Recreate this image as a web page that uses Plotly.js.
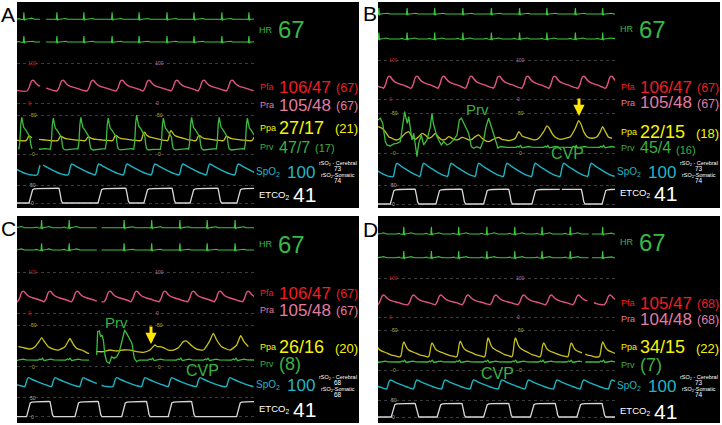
<!DOCTYPE html>
<html><head><meta charset="utf-8">
<script src="https://cdn.plot.ly/plotly-3.0.1.min.js"></script>
<style>html,body{margin:0;padding:0;background:#fff}#chart{width:722px;height:425px}</style>
</head><body><div id="chart"></div>
<script>
// ================= DATA (time in s, pressures in mmHg) =================
const T_END = 7.9;
// shared beat shapes: offset from fiducial point (s) and normalized amplitude
const ecgShapeT = [-0.26,-0.21,-0.16,-0.12,-0.04,-0.02,0,0.02,0.045,0.1,0.17,0.24,0.3,0.36];
const ecgShapeV = [0,0.08,0.09,0,0,-0.06,1,-0.18,0,0.01,0.08,0.16,0.12,0];
const artShapeT = [-0.2,-0.13,-0.07,-0.03,0,0.03,0.1,0.17,0.23,0.33,0.5,0.62,0.72];
const artShapeV = [0,0.3,0.8,0.97,1,0.96,0.72,0.55,0.46,0.36,0.22,0.1,0.03];
const rvShapeT = [-0.1,-0.067,-0.033,0,0.033,0.067,0.13,0.2,0.27,0.3,0.33,0.4,0.55,0.8];
const rvShapeV = [0,0.2,0.78,1,0.83,0.68,0.61,0.51,0.39,0.15,0.02,-0.02,0,0.02];
const paShapeT = [-0.13,-0.1,-0.067,-0.033,0,0.033,0.1,0.17,0.27,0.4,0.55,0.7,0.78];
const paShapeV = [0,0.05,0.35,0.8,1,0.9,0.6,0.45,0.35,0.25,0.12,0.05,0];
const plethShapeT = [-0.13,-0.1,-0.067,-0.033,0,0.05,0.13,0.27,0.4,0.53,0.67,0.78];
const plethShapeV = [0,0.15,0.55,0.88,1,0.95,0.8,0.6,0.42,0.25,0.1,0.02];
const cvpShapeT = [-0.12,-0.06,-0.02,0.03,0.08,0.15,0.3,0.4,0.5];
const cvpShapeV = [0,1.2,0.3,2.2,-0.6,0,1.0,0.2,0];
const capRiseT = [0,0.04,0.08,0.12,0.18,0.3];
const capRiseV = [0,0.3,0.72,0.9,0.96,0.98];
const capFallT = [-0.05,0,0.04,0.08,0.12];
const capFallV = [1,0.99,0.6,0.15,0];

// ---- Panel A ----
const ecgR_A = [0.23,1.33,2.23,3.17,4.07,5.0,5.9,6.83,7.73];
const ecgGap_A = [0.77,0.97];
const pfaPeak_A = [-0.7,0.53,1.53,2.53,3.5,4.4,5.33,6.23,7.17];
const pfaGap_A = [0.77,0.97];
const pfaSysDia_A = [57,30];
const prvPeak_A = [0.16,1.21,2.13,3.04,3.99,4.88,5.82,6.74,7.68];
const prvSys_A = [47,46,47,46,50,46,47,47,46];
const prvDia_A = 6;
const ppaPeakT_A = [-0.6,0.41,1.46,2.38,3.29,4.24,5.13,6.07,6.99,7.93];
const ppaPeakV_A = [22,23,23,22,24,28,30,24,23,22];
const ppaTrough_A = 17;
const ppGap_A = [0.5,0.73];
const spo2Peak_A = [-0.35,0.8,1.83,2.73,3.67,4.6,5.53,6.43,7.38];
const spo2Gap_A = [0.77,0.87];
const etUp_A = [0.4,2.7,4.23,5.77,7.33];
const etDown_A = [1.4,3.63,5.17,6.7,8.6];
const etTop_A = 41;

// ---- Panel B ----
const ecgR_B = [0.03,0.97,1.89,2.83,3.78,4.72,5.63,6.58,7.49];
const pfaPeak_B = [-0.55,0.38,1.3,2.19,3.11,4.04,4.99,5.89,6.86,7.78];
const pfaSysDia_B = [59,28];
const prvB_t = [0.0,0.078,0.156,0.2,0.244,0.3,0.411,0.522,0.633,0.744,0.822,0.889,0.933,0.978,1.022,1.078,1.133,1.189,1.244,1.3,1.356,1.444,1.522,1.633,1.744,1.8,1.844,1.911,1.967,2.022,2.111,2.189,2.3,2.411,2.522,2.633,2.711,2.778,2.856,2.933,3.022,3.111,3.189,3.3,3.411,3.522,3.6,3.689,3.778,3.856,3.933,4.0];
const prvB_v = [41.7,43.8,37.5,25,14.6,10.4,9.2,11.7,12.5,14.6,33.3,52.1,43.8,37.5,45.8,29.2,16.7,25,8.3,-4.2,12.5,22.9,10.4,16.7,33.3,50,37.5,27.1,20.8,16.7,10.4,14.6,10.4,12.5,16.7,22.9,41.7,43.8,37.5,31.3,25,8.3,6.3,8.3,6.3,16.7,33.3,43.8,33.3,22.9,12.5,6.3];
const cvpBase_B = 7.5;
const ppaB_t = [0.0,0.133,0.244,0.356,0.467,0.578,0.689,0.8,0.911,1.022,1.133,1.244,1.356,1.467,1.578,1.689,1.8,1.911,2.022,2.133,2.244,2.356,2.467,2.578,2.689,2.8,2.911,3.022,3.133,3.244,3.356,3.467,3.578,3.689,3.8,3.911,4.022,4.133,4.244,4.356,4.467,4.578,4.689,4.744,4.8,4.911,5.022,5.133,5.244,5.356,5.522,5.633,5.711,5.8,5.911,6.078,6.244,6.411,6.578,6.689,6.778,6.856,6.967,7.133,7.3,7.411,7.489,7.578,7.689,7.8];
const ppaB_v = [33.3,31.3,27.1,20.8,18.8,16.7,17.5,20.8,25,27.1,20.8,17.5,20.8,25,22.9,18.8,20.8,25,20,16.7,17.5,20.8,18.8,16.7,17.5,20,18.8,16.7,17.5,20.8,22.9,18.8,15.8,14.6,16.7,18.8,20,17.5,16.7,15.8,16.7,18.8,27.1,25,21.7,20,18.8,17.5,16.7,18.8,27.1,34.2,31.3,25,20,17.5,18.8,20.8,31.3,40.8,35.4,27.1,20.8,18.8,20.8,27.1,33.3,27.1,20,18.8];
const spo2Peak_B = [-0.4,0.63,1.52,2.44,3.36,4.3,5.24,6.19,7.11];
const etUp_B = [0.41,1.93,3.52,5.13,7.47];
const etDown_B = [1.24,2.8,4.36,6.78,8.6];
const etGap_B = [6.06,6.13];
const etTop_B = 39;

// ---- Panel C ----
const ecgR_C = [-0.1,0.82,1.74,3.57,4.49,5.43,6.34,7.27];
const ecgGap_C = [2.66,2.82];
const pfaPeak_C = [-0.75,0.21,1.1,2.01,3.1,3.99,4.93,5.88,6.77,7.71];
const pfaGap_C = [2.66,2.82];
const pfaSysDia_C = [54,28];
const cvpBase_C = 8;
const prvC_t = [2.656,2.689,2.744,2.789,2.833,2.878,2.933,2.989,3.078,3.156,3.233,3.322,3.411,3.5,3.589,3.656,3.744,3.833,3.911,3.989];
const prvC_v = [14,42,42.8,36,38,32,14,6,4,12,10,12,18,30,44,40,34,28,10,6];
const ppaC_t = [0.044,0.211,0.433,0.6,0.744,0.822,0.9,1.044,1.211,1.378,1.6,1.711,1.767,1.856,1.989,2.156,2.267,2.378,2.656,2.878,3.1,3.322,3.544,3.767,3.989,4.211,4.433,4.6,4.678,4.767,4.878,5.044,5.211,5.378,5.544,5.656,5.822,5.989,6.211,6.411,6.544,6.656,6.822,7.1,7.322,7.456,7.567,7.711];
const ppaC_v = [24,22.8,21.2,24,30.8,34.8,30.8,24,21.2,20,24,30.8,34,28,22,20,18,16,18,18,20,18.8,20,20,18,17.2,20,26,24,24,22.8,20,20,22.8,30,30.8,25.2,21.2,20,30,40,32,24,20,26,37.2,30,24];
const ppGap_C = [2.4,2.64];
const spo2Peak_C = [-0.55,0.38,1.27,2.21,3.32,4.27,5.16,6.1,7.1];
const spo2Gap_C = [2.66,2.82];
const etUp_C = [0.32,1.93,3.49,5.04,7.32];
const etDown_C = [1.1,2.71,4.32,5.82,8.6];
const etTop_C = 40;

// ---- Panel D ----
const ecgR_D = [-0.06,0.86,1.78,2.69,3.63,4.56,5.47,6.41,7.49];
const ecgGap_D = [7.02,7.13];
const pfaPeak_D = [-0.75,0.19,1.19,2.1,3.0,3.93,4.86,5.78,6.69,7.74];
const pfaGap_D = [6.98,7.2];
const pfaSysDia_D = [57,32];
const ppaPeakT_D = [-0.1,0.86,1.8,2.74,3.67,4.58,5.52,6.44,7.49];
const ppaPeakV_D = [35,35,34,36,40,40,34,34,35];
const ppaTrough_D = 16.5;
const ppGap_D = [6.8,6.91];
const cvpBase_D = 10;
const spo2Peak_D = [-0.5,0.41,1.3,2.24,3.19,4.13,5.02,5.97,6.86,7.8];
const etUp_D = [0.44,1.97,3.52,5.08,6.63];
const etDown_D = [1.24,2.8,4.36,5.91,7.47];
const etTop_D = 40;

// ---- monitor numerics ----
const letters = ['A','B','C','D'];
const hrVal = ['67','67','67','67'];
const pfaVal = ['106/47','106/47','106/47','105/47'];
const pfaMean = ['(67)','(67)','(67)','(68)'];
const praVal = ['105/48','105/48','105/48','104/48'];
const praMean = ['(67)','(67)','(67)','(68)'];
const ppaVal = ['27/17','22/15','26/16','34/15'];
const ppaMean = ['(21)','(18)','(20)','(22)'];
const prvVal = ['47/7','45/4','',''];
const prvMean = ['(17)','(16)','(8)','(7)'];
const spo2Val = ['100','100','100','100'];
const rsoCereb = ['73','73','68','73'];
const rsoSomat = ['74','74','68','74'];
const etco2Val = ['41','41','41','41'];

// ================= BUILD =================
const W=722, H=425;
const FONT='"Liberation Sans", Arial, sans-serif';
const px=x=>x/W, py=y=>1-y/H;
const panelX0=[17,378,17,378], panelY0=[2,2,216,216], panelH=[206,206,207,207];
const panelW=342, waveW=237;
// per panel, per channel: value v1 at row r1, value v2 at row r2 (px from panel top)
const chanAnchors=[
 [[1,10.3,0,17.3],[1,34,0,40],[100,61,0,101],[50,113,0,152],[10,162,0,173],[50,183,0,201]],
 [[1,6,0,12],[1,30.5,0,37],[100,58,0,97.3],[50,111.3,0,151.3],[10,161.3,0,174.7],[50,183,0,202]],
 [[1,4,0,11.7],[1,27.3,0,34],[100,56.3,0,97.3],[50,109,0,150.7],[10,161.7,0,170.7],[50,181.7,0,200.7]],
 [[1,10.7,0,18],[1,35,0,41.7],[100,62.3,0,101.3],[50,114,0,154],[10,164,0,173],[50,184,0,201]]
];
const chanGrid=[[],[],[0,100],[0,50],[],[0,50]];

function interpAt(s,tt){
  for(let i=0;i<s.x.length-1;i++){
    const a=s.x[i], b=s.x[i+1];
    if(a!==null && b!==null && s.y[i]!==null && s.y[i+1]!==null && a<=tt && b>=tt){
      const f=b>a?(tt-a)/(b-a):0; return s.y[i]+f*(s.y[i+1]-s.y[i]);
    }
  }
  return null;
}
function applyGap(s,gap){
  if(!gap) return s;
  const ox=[],oy=[]; let done=false;
  for(let i=0;i<s.x.length;i++){
    const t=s.x[i];
    if(t>=gap[0] && t<=gap[1]) continue;
    if(t>gap[1] && !done){
      const a=interpAt(s,gap[0]), b=interpAt(s,gap[1]);
      if(a!==null){ox.push(gap[0]); oy.push(a);}
      ox.push((gap[0]+gap[1])/2); oy.push(null);
      if(b!==null){ox.push(gap[1]); oy.push(b);}
      done=true;
    }
    ox.push(t); oy.push(s.y[i]);
  }
  return {x:ox,y:oy};
}
function beatSeries(times,shT,shV,lo,hi,opt){
  opt=opt||{};
  const xs=[],ys=[];
  times.forEach((t0,i)=>{
    const next=i+1<times.length? times[i+1]+shT[0] : Infinity;
    const h=Array.isArray(hi)? hi[i] : hi;
    shT.forEach((d,j)=>{const t=t0+d; if(t<next){xs.push(t); ys.push(lo+(h-lo)*shV[j]);}});
  });
  if(opt.pad){
    if(xs[0]>0){xs.unshift(-0.1); ys.unshift(lo);}
    if(xs[xs.length-1]<T_END){xs.push(T_END+0.1); ys.push(lo);}
  }
  return applyGap({x:xs,y:ys},opt.gap);
}
function capSeries(ups,downs,top,gap){
  const xs=[-0.1],ys=[0];
  ups.forEach((u,i)=>{
    capRiseT.forEach((d,j)=>{xs.push(u+d); ys.push(top*capRiseV[j]);});
    capFallT.forEach((d,j)=>{xs.push(downs[i]+d); ys.push(top*capFallV[j]);});
  });
  xs.push(T_END+0.5); ys.push(0);
  return applyGap({x:xs,y:ys},gap);
}
function splice(base,insT,insV,from,to,gapBefore){
  const xs=[],ys=[];
  base.x.forEach((t,i)=>{ if(t<from){xs.push(t); ys.push(base.y[i]);} });
  if(gapBefore){
    const a=interpAt(base,from); if(a!==null){xs.push(from); ys.push(a);}
    xs.push(from+0.01); ys.push(null);
  }
  insT.forEach((t,i)=>{xs.push(t); ys.push(insV[i]);});
  base.x.forEach((t,i)=>{ if(t>to){xs.push(t); ys.push(base.y[i]);} });
  return {x:xs,y:ys};
}

const COL={ecg:'#3cc43c',hr:'#38b845',pw:'#e0557f',pfa:'#f01d25',pra:'#e37ba0',
  ppaW:'#c9c21c',ppa:'#f7f400',prvW:'#3dbd3d',prv:'#3cb043',spo2W:'#1db3c3',spo2:'#20b6c6',etW:'#d8d8d8',wh:'#ffffff'};

// per-panel series
const S=[{},{},{},{}];
const ecgR=[ecgR_A,ecgR_B,ecgR_C,ecgR_D], ecgGap=[ecgGap_A,null,ecgGap_C,ecgGap_D];
const pfaPk=[pfaPeak_A,pfaPeak_B,pfaPeak_C,pfaPeak_D], pfaGap=[pfaGap_A,null,pfaGap_C,pfaGap_D];
const pfaSD=[pfaSysDia_A,pfaSysDia_B,pfaSysDia_C,pfaSysDia_D];
const spPk=[spo2Peak_A,spo2Peak_B,spo2Peak_C,spo2Peak_D], spGap=[spo2Gap_A,null,spo2Gap_C,null];
const etU=[etUp_A,etUp_B,etUp_C,etUp_D], etD=[etDown_A,etDown_B,etDown_C,etDown_D];
const etT=[etTop_A,etTop_B,etTop_C,etTop_D], etG=[null,etGap_B,null,null];
for(let p=0;p<4;p++){
  S[p].ecg=beatSeries(ecgR[p],ecgShapeT,ecgShapeV,0,1,{pad:true,gap:ecgGap[p]});
  S[p].pfa=beatSeries(pfaPk[p],artShapeT,artShapeV,pfaSD[p][1],pfaSD[p][0],{gap:pfaGap[p]});
  S[p].spo2=beatSeries(spPk[p],plethShapeT,plethShapeV,0,10,{gap:spGap[p]});
  S[p].et=capSeries(etU[p],etD[p],etT[p],etG[p]);
}
// Ppa (yellow) / Prv-CVP (green)
S[0].ppa=beatSeries(ppaPeakT_A,paShapeT,paShapeV,ppaTrough_A,ppaPeakV_A,{gap:ppGap_A});
S[0].prv=beatSeries(prvPeak_A,rvShapeT,rvShapeV,prvDia_A,prvSys_A,{gap:ppGap_A});
S[1].ppa={x:ppaB_t,y:ppaB_v};
S[1].prv=splice(beatSeries(ecgR_B,cvpShapeT,cvpShapeV,cvpBase_B,cvpBase_B+1,{pad:true}),prvB_t,prvB_v,-1,4.0,false);
S[2].ppa=applyGap({x:ppaC_t,y:ppaC_v},ppGap_C);
S[2].prv=splice(beatSeries(ecgR_C,cvpShapeT,cvpShapeV,cvpBase_C,cvpBase_C+1,{pad:true}),prvC_t,prvC_v,ppGap_C[0],4.0,true);
S[3].ppa=beatSeries(ppaPeakT_D,paShapeT,paShapeV,ppaTrough_D,ppaPeakV_D,{gap:ppGap_D});
S[3].prv=beatSeries(ecgR_D,cvpShapeT,cvpShapeV,cvpBase_D,cvpBase_D+1,{pad:true,gap:ppGap_D});

const layout={width:W,height:H,margin:{l:0,r:0,t:0,b:0},paper_bgcolor:'#ffffff',
  plot_bgcolor:'rgba(0,0,0,0)',showlegend:false,shapes:[],annotations:[],font:{family:FONT}};
const traces=[];
const yid=(p,c)=>{const n=p*6+c+1; return n===1?'y':'y'+n;};
const xid=p=>p===0?'x':'x'+(p+1);

function ann(x,y,text,size,color,xa,extra){
  const a={xref:'paper',yref:'paper',x:px(x),y:py(y),text:text,showarrow:false,
    xanchor:xa||'left',yanchor:'middle',borderpad:0,font:{family:FONT,size:size,color:color}};
  Object.assign(a,extra||{});
  layout.annotations.push(a);
}
function scaleLbl(p,c,xr,val,text,color){
  layout.annotations.push({xref:'paper',yref:yid(p,c),x:px(panelX0[p]+xr),y:val,text:text,showarrow:false,
    xanchor:'left',yanchor:'middle',borderpad:0,font:{family:FONT,size:5,color:color}});
}

const rowHR=[28,27,28,26], rowPfa=[85,85,77,87], rowPra=[103,101,94,103], rowPpa=[126,130,131,131],
      rowPrv=[145,146,148,149], rowSp=[170,170,169,170], rowEt=[193,191,193,195];
const letterXY=[[8,14],[369.5,13.5],[8.5,228],[370,229]];

for(let p=0;p<4;p++){
  const X0=panelX0[p], Y0=panelY0[p], PH=panelH[p];
  layout.shapes.push({type:'rect',xref:'paper',yref:'paper',x0:px(X0),x1:px(X0+panelW),
    y0:py(Y0+PH),y1:py(Y0),fillcolor:'#000',line:{width:0},layer:'below'});
  const xa=p===0?'xaxis':'xaxis'+(p+1);
  layout[xa]={domain:[px(X0),px(X0+waveW)],range:[0,T_END],visible:false,anchor:yid(p,0),fixedrange:true};
  for(let c=0;c<6;c++){
    const n=p*6+c+1, name=n===1?'yaxis':'yaxis'+n;
    const [v1,r1,v2,r2]=chanAnchors[p][c];
    const k=(v1-v2)/(r2-r1);
    const top=v2+r2*k, bot=v2-(PH-r2)*k;
    const ax={domain:[py(Y0+PH),py(Y0)],range:[bot,top],anchor:xid(p),showticklabels:false,ticks:'',
      showline:false,zeroline:false,showgrid:chanGrid[c].length>0,tickmode:'array',tickvals:chanGrid[c],
      gridcolor:'#3c3c3c',griddash:'dot',gridwidth:1,fixedrange:true};
    if(c>0) ax.overlaying=yid(p,0);
    layout[name]=ax;
  }
  const add=(s,c,color,w,spline)=>traces.push({type:'scatter',mode:'lines',x:s.x,y:s.y,xaxis:xid(p),yaxis:yid(p,c),
    line:{color:color,width:w,shape:spline?'spline':'linear',smoothing:0.5},connectgaps:false,hoverinfo:'skip'});
  add(S[p].ecg,0,COL.ecg,1.1,false);
  add(S[p].ecg,1,COL.ecg,1.1,false);
  add(S[p].pfa,2,COL.pw,1.4,true);
  add(S[p].ppa,3,COL.ppaW,1.3,true);
  add(S[p].prv,3,COL.prvW,1.3,false);
  add(S[p].spo2,4,COL.spo2W,1.4,true);
  add(S[p].et,5,COL.etW,1.3,false);

  // scale labels
  scaleLbl(p,2,10,100,'100','#d02020'); scaleLbl(p,2,10,0,'0','#d02020');
  scaleLbl(p,2,137,100,'100','#c070b0'); scaleLbl(p,2,138,0,'0','#c070b0');
  scaleLbl(p,3,13,50,'50','#b8b030'); scaleLbl(p,3,14,0,'0','#b8b030');
  scaleLbl(p,3,139,50,'50','#b8b030'); scaleLbl(p,3,140,0,'0','#b8b030');
  scaleLbl(p,5,12,50,'50','#b0b0b0'); scaleLbl(p,5,13,0,'0','#b0b0b0');

  // numerics
  ann(letterXY[p][0],letterXY[p][1],letters[p],21,'#000','center');
  ann(X0+241,Y0+rowHR[p],'HR',9,COL.hr);
  ann(X0+260,Y0+rowHR[p],hrVal[p],24,COL.hr);
  ann(X0+242,Y0+rowPfa[p],'Pfa',9,COL.pfa);
  ann(X0+261,Y0+rowPfa[p],pfaVal[p],17,COL.pfa);
  ann(X0+318,Y0+rowPfa[p]+1,pfaMean[p],12.5,COL.pfa);
  ann(X0+242,Y0+rowPra[p],'Pra',9,COL.pra);
  ann(X0+261,Y0+rowPra[p],praVal[p],17,COL.pra);
  ann(X0+318,Y0+rowPra[p]+1,praMean[p],12.5,COL.pra);
  ann(X0+242,Y0+rowPpa[p],'Ppa',9,COL.ppa);
  ann(X0+261,Y0+rowPpa[p],ppaVal[p],18,COL.ppa);
  ann(X0+317,Y0+rowPpa[p]+1,ppaMean[p],13,COL.ppa);
  ann(X0+242,Y0+rowPrv[p],'Prv',9,COL.prv);
  if(prvVal[p]){
    ann(X0+261,Y0+rowPrv[p],prvVal[p],16,COL.prv);
    ann(X0+297,Y0+rowPrv[p]+1.5,prvMean[p],11,COL.prv);
  } else {
    ann(X0+261,Y0+rowPrv[p],prvMean[p],18,COL.prv);
  }
  ann(X0+238,Y0+rowSp[p],'SpO<sub>2</sub>',10,COL.spo2);
  ann(X0+269,Y0+rowSp[p],spo2Val[p],17,COL.spo2);
  ann(X0+321,Y0+161,'rSO<sub>2</sub> - Cerebral',5.5,'#fff','center');
  ann(X0+321,Y0+166.5,rsoCereb[p],6.5,'#fff','center');
  ann(X0+321,Y0+173,'rSO<sub>2</sub>-Somatic',5.5,'#fff','center');
  ann(X0+321,Y0+178.5,rsoSomat[p],6.5,'#fff','center');
  ann(X0+241,Y0+rowEt[p],'ETCO<sub>2</sub>',9.5,'#fff');
  ann(X0+275,Y0+rowEt[p],etco2Val[p],21,'#fff');
}
// figure call-outs
ann(477,109,'Prv',15,COL.prv,'center');
ann(567,154,'CVP',16,COL.prv,'center');
ann(116,322,'Prv',15,COL.prv,'center');
ann(202,370,'CVP',16,COL.prv,'center');
ann(497,373,'CVP',16,COL.prv,'center');
[[579,116],[151,344]].forEach(([x,y])=>layout.annotations.push({xref:'paper',yref:'paper',x:px(x),y:py(y),
  text:'',showarrow:true,ax:0,ay:-19,arrowhead:2,arrowsize:0.75,arrowwidth:3,arrowcolor:'#ffe600',standoff:0}));

Plotly.newPlot('chart',traces,layout,{displayModeBar:false,staticPlot:true});
</script></body></html>
